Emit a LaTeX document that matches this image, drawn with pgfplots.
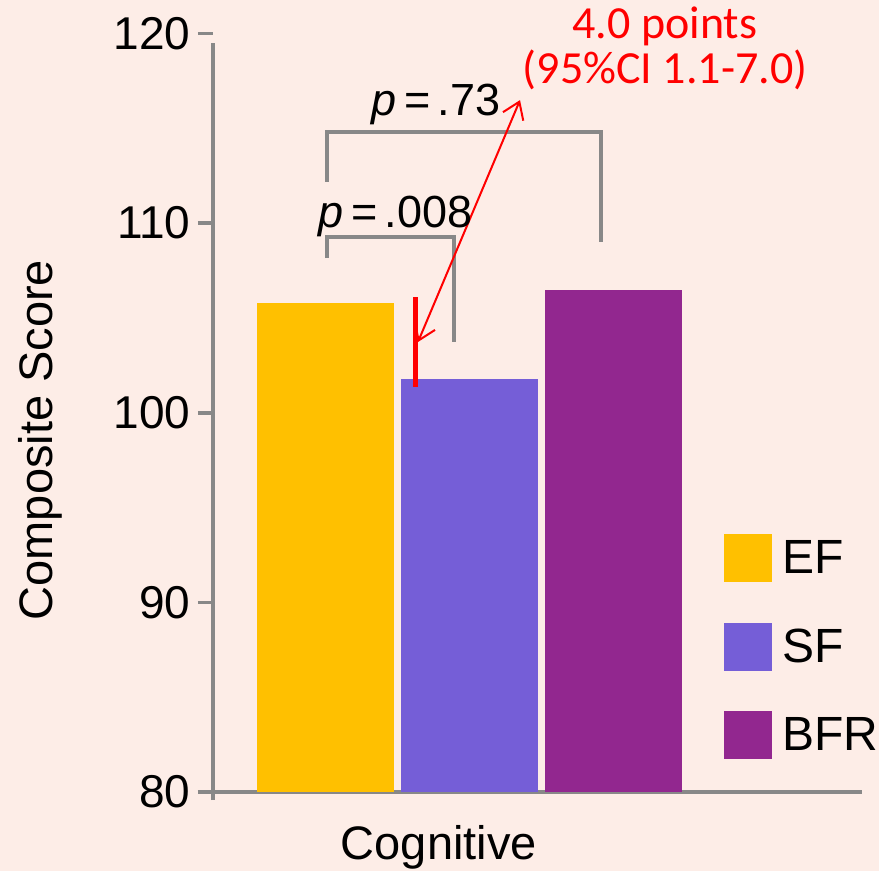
\documentclass[border=0pt]{standalone}
\usepackage{graphicx}
\usepackage{pgfplots}
\pgfplotsset{compat=1.18}
\usepackage{fontspec}
\setmainfont{Liberation Sans}
\newfontfamily\calibri{Carlito}
\usetikzlibrary{arrows.meta}

\definecolor{bgpink}{RGB}{253,237,231}
\definecolor{efcol}{RGB}{255,192,0}
\definecolor{sfcol}{RGB}{117,94,215}
\definecolor{bfrcol}{RGB}{146,39,143}
\definecolor{axgray}{RGB}{136,136,136}

\pgfplotsset{
  sq/.style={legend image code/.code={\fill[##1] (0pt,-24pt) rectangle (48pt,24pt);}},
}

\begin{document}
\begin{tikzpicture}
\path[fill=bgpink, use as bounding box] (0,0) rectangle (879pt,-871pt);
\begin{axis}[
    at={(213pt,-792pt)}, anchor=south west,
    scale only axis, width=649pt, height=758.5pt,
    xmin=0.2188, xmax=4.7257, ymin=80, ymax=120,
    clip mode=individual,
    axis lines=left,
    x axis line style={-, draw=axgray, line width=4pt, shorten <=-15pt},
    y axis line style={-, draw=axgray, line width=3.5pt, shorten <=-8pt, shorten >=9.5pt},
    xtick=\empty,
    ytick={80,90,100,110,120},
    tick align=outside,
    major tick length=15pt,
    y tick style={draw=axgray, line width=3.5pt},
    /pgf/number format/assume math mode=true,
    yticklabel style={font=\fontsize{46}{46}\selectfont, text=black, xshift=-4pt},
    every axis y label/.style={at={(axis description cs:-0.248,0.464)}, rotate=90, anchor=base, font=\fontsize{47}{47}\selectfont},
    every axis x label/.style={at={(axis description cs:0.348,-0.0896)}, anchor=base, font=\fontsize{47}{47}\selectfont},
    ylabel={Composite Score},
    xlabel={Cognitive},
    legend style={at={(rel axis cs:0.7874,0.340)}, anchor=north west, draw=none, fill=none,
      inner sep=0pt, outer sep=0pt, row sep=40.5pt, column sep=10pt,
      font=\fontsize{48}{48}\selectfont, nodes={inner sep=0pt}},
    legend cell align=left,
]
% bars
\addplot[ybar, bar width=0.951, bar shift=0pt, fill=efcol, draw=none, sq] coordinates {(1,105.79)};
\addlegendentry{EF}
\addplot[ybar, bar width=0.951, bar shift=0pt, fill=sfcol, draw=none, sq] coordinates {(2,101.78)};
\addlegendentry{SF}
\addplot[ybar, bar width=0.951, bar shift=0pt, fill=bfrcol, draw=none, sq] coordinates {(3,106.48)};
\addlegendentry{BFR}

% significance brackets
\addplot[axgray, line width=4pt, forget plot] coordinates {(1.0104,108.16) (1.0104,109.27) (1.892,109.27) (1.892,103.73)};
\addplot[axgray, line width=4pt, forget plot] coordinates {(1.0104,112.17) (1.0104,114.80) (2.913,114.80) (2.913,109.00)};

% difference EF - SF
\addplot[red, line width=5pt, forget plot] coordinates {(1.622,101.36) (1.622,106.10)};
\addplot[red, line width=2pt, forget plot, {Straight Barb[length=16pt,width=22pt]}-{Straight Barb[length=16pt,width=22pt]}] coordinates {(1.642,103.73) (2.351,116.49)};

\node[anchor=base west, font=\fontsize{45}{45}\selectfont] at (axis cs:1.295,115.70) {\textit{p}\,=\,.73};
\node[anchor=base west, font=\fontsize{45}{45}\selectfont] at (axis cs:0.927,109.79) {\textit{p}\,=\,.008};
\node[anchor=base, text=red, font=\calibri\fontsize{46}{46}\selectfont] at (axis cs:3.358,119.76) {4.0 points};
\node[anchor=base, text=red, font=\calibri\fontsize{46}{46}\selectfont] at (axis cs:3.358,117.39) {(95\%CI 1.1-7.0)};
\end{axis}
\end{tikzpicture}
\end{document}
